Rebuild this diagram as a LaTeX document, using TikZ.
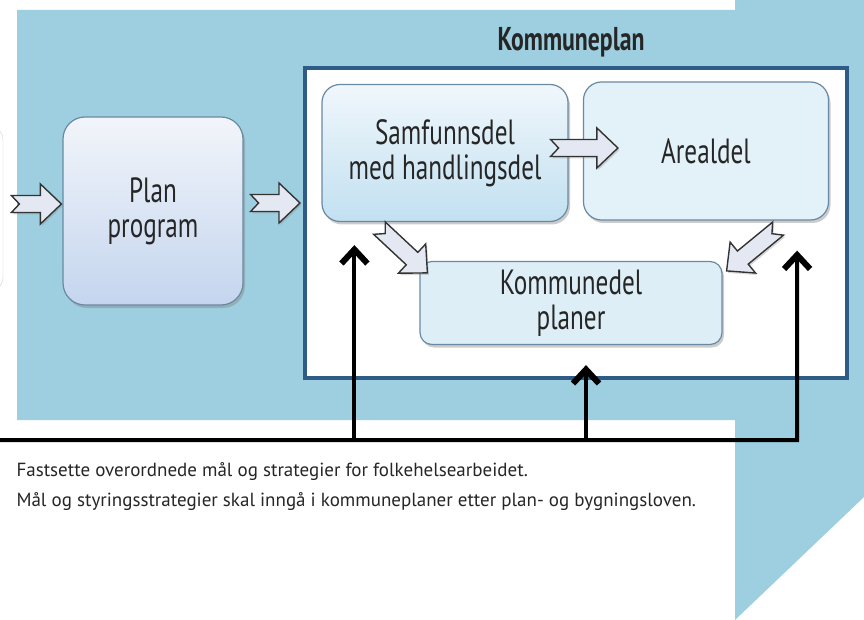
\documentclass[tikz,border=0pt]{standalone}
\usepackage{fontspec}
\setmainfont{PT Sans}
\newfontfamily\boxfont{PT Sans}[FakeStretch=0.72]
\usetikzlibrary{arrows.meta,calc,shadows}

\definecolor{skyblue}{HTML}{9DCFE0}
\definecolor{frameblue}{HTML}{2E5C86}
\definecolor{boxline}{HTML}{6A89A3}
\definecolor{arrowfill}{HTML}{E4E8F2}
\definecolor{arrowline}{HTML}{333333}
\definecolor{inkgray}{HTML}{262626}
\definecolor{plantop}{HTML}{F2F5FA}
\definecolor{planbottom}{HTML}{C4D5EE}
\definecolor{samftop}{HTML}{F0F7FB}
\definecolor{samfbottom}{HTML}{C2E0F1}
\definecolor{arealfill}{HTML}{E3F1F8}
\definecolor{komdfill}{HTML}{DDEEF7}

% notched block arrow from #1 (tail) to #2 (tip)
\newcommand{\blockarrow}[2]{%
  \path (#1) coordinate (ba-s) (#2) coordinate (ba-e);
  \coordinate (ba-n) at ($(ba-e)!21pt!(ba-s)$);
  \filldraw[fill=arrowfill, draw=arrowline, line width=1.4pt, line join=miter,
            drop shadow={shadow xshift=1.5pt, shadow yshift=-2pt, opacity=0.3}]
    ($(ba-s)!8.5pt!90:(ba-e)$) -- ($(ba-n)!8.5pt!90:(ba-e)$) -- ($(ba-n)!20pt!90:(ba-e)$)
    -- (ba-e) -- ($(ba-n)!20pt!-90:(ba-e)$) -- ($(ba-n)!8.5pt!-90:(ba-e)$)
    -- ($(ba-s)!8.5pt!-90:(ba-e)$) -- ($(ba-s)!8pt!(ba-e)$) -- cycle;
}

\begin{document}
\begin{tikzpicture}[x=1pt,y=-1pt]
  \tikzstyle{part}=[rounded corners=18pt, draw=boxline, line width=1.2pt, align=center,
    text=inkgray, font=\boxfont\fontsize{35}{35}\selectfont,
    drop shadow={shadow xshift=2pt, shadow yshift=-3pt, opacity=0.4}]
  \tikzstyle{feedback}=[line width=4pt, line join=miter, -{Straight Barb[length=14pt,width=26pt,line width=2pt 1]}]
  \tikzstyle{note}=[anchor=base west, text=inkgray, font=\fontsize{19}{24}\selectfont]

  \clip (0,0) rectangle (864,620);
  \fill[white] (0,0) rectangle (864,620);
  % background band
  \fill[skyblue] (17,10) -- (735,10) -- (735,0) -- (864,0) -- (864,497)
    -- (735,620) -- (735,420) -- (17,420) -- cycle;
  % end of the previous box
  \draw[gray!35, fill=white, rounded corners=15pt] (-40,125) rectangle (3,292);

  \node[draw=frameblue, line width=4pt, fill=white, minimum width=542pt, minimum height=310pt] (kp) at (576,223) {};
  \node[font=\boxfont\bfseries\fontsize{33}{33}\selectfont, text=inkgray] (kp-title) at (571,42) {Kommuneplan};

  \node[part, top color=plantop, bottom color=planbottom, rounded corners=22pt, minimum width=180pt, minimum height=188pt] (plan) at (153,211) {Plan\\program};
  \node[part, top color=samftop, bottom color=samfbottom, minimum width=246pt, minimum height=137pt] (samf) at (445,153) {Samfunnsdel\\med handlingsdel};
  \node[part, fill=arealfill, minimum width=245pt, minimum height=138pt] (areal) at (706,151) {Arealdel};
  \node[part, fill=komdfill, rounded corners=12pt, minimum width=302pt, minimum height=83pt] (komd) at (571,303) {Kommunedel\\planer};

  \blockarrow{$(plan.west)+(-51,-7)$}{$(plan.west)+(-1,-7)$}
  \blockarrow{$(plan.east)+(7,-8)$}{$(kp.west)+(-3,-20)$}
  \blockarrow{$(samf.east)+(-18,-5)$}{$(areal.west)+(35,-3)$}
  \blockarrow{$(samf.south west)+(58,6)$}{$(komd.north west)+(8,12)$}
  \blockarrow{$(areal.south east)+(-51,8)$}{$(komd.north east)+(4,10)$}

  \coordinate (fb-in) at (0,440);
  \coordinate (fb-r) at (797,440);
  \coordinate (tip-samf) at ($(samf.south west)+(33,23)$);
  \coordinate (tip-komd) at ($(komd.south)+(15,20)$);
  \coordinate (tip-areal) at ($(areal.south east)+(-32,30)$);
  \draw[feedback] (fb-in) -- (fb-r) -- (tip-areal);
  \draw[feedback] (tip-samf |- fb-in) -- (tip-samf);
  \draw[feedback] (tip-komd |- fb-in) -- (tip-komd);

  \node[note] (note-a) at (13,476) {Fastsette overordnede mål og strategier for folkehelsearbeidet.};
  \node[note] (note-b) at (13,506) {Mål og styringsstrategier skal inngå i kommuneplaner etter plan- og bygningsloven.};
\end{tikzpicture}
\end{document}
